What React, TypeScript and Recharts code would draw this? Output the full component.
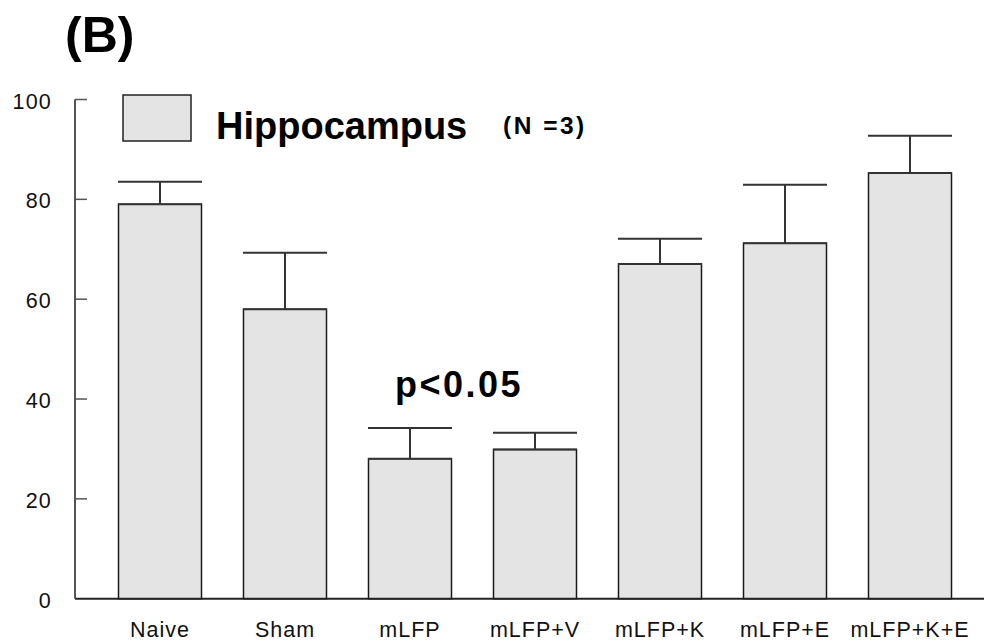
import React from 'react';
import { BarChart, Bar, XAxis, YAxis, ErrorBar, Customized } from 'recharts';

const categories = ['Naive', 'Sham', 'mLFP', 'mLFP+V', 'mLFP+K', 'mLFP+E', 'mLFP+K+E'];
const means = [79, 58, 28.05, 29.9, 67.05, 71.2, 85.3];
const sems = [4.5, 11.3, 6.15, 3.35, 5.05, 11.7, 7.45];
const yTicks = [0, 20, 40, 60, 80, 100];

const data = categories.map((name, i) => ({ name, value: means[i], err: [0, sems[i]] }));

const FONT = 'Liberation Sans, Arial, Helvetica, sans-serif';

const YTick = (props: any) => {
  const { x, y, payload } = props;
  const axisX = x + 8;
  return (
    <g>
      {payload.value !== 0 && (
        <line x1={axisX} x2={axisX + 12} y1={y} y2={y} stroke="#555" strokeWidth={1.5} />
      )}
      <text x={axisX - 23} y={y} dy={9} textAnchor="end" fontSize={21.5} letterSpacing={1.2} fill="#111" fontFamily={FONT}>
        {payload.value}
      </text>
    </g>
  );
};

const XTick = (props: any) => {
  const { x, y, payload } = props;
  return (
    <text x={x} y={y} dy={30} textAnchor="middle" fontSize={21.5} letterSpacing={1} fill="#111" fontFamily={FONT}>
      {payload.value}
    </text>
  );
};

const Annotations = () => (
  <g fontFamily={FONT} fontWeight="bold" fill="#000">
    <text x={65} y={52} fontSize={50}>(B)</text>
    <rect x={123} y={95} width={68} height={46} fill="#e4e4e4" stroke="#222" strokeWidth={1.5} />
    <text x={216} y={139} fontSize={38}>Hippocampus</text>
    <text x={503} y={134} fontSize={24.5} letterSpacing={2.5}>(N =3)</text>
    <text x={395} y={397} fontSize={36} letterSpacing={2.5}>p&lt;0.05</text>
  </g>
);

export default function App() {
  return (
    <div style={{ position: 'absolute', left: 0, top: 0, background: '#fff' }}>
      <BarChart
        width={984}
        height={643}
        data={data}
        margin={{ top: 99.5, right: 0, bottom: 0, left: 0 }}
        barSize={83}
      >
        <XAxis
          dataKey="name"
          padding={{ left: 22.5, right: 11.5 }}
          tickLine={false}
          axisLine={{ stroke: '#222', strokeWidth: 2 }}
          tick={<XTick />}
          interval={0}
          height={44.3}
        />
        <YAxis
          domain={[0, 100]}
          ticks={yTicks}
          width={75}
          tickLine={false}
          axisLine={{ stroke: '#555', strokeWidth: 2 }}
          tick={<YTick />}
          interval={0}
        />
        <Bar dataKey="value" fill="#e4e4e4" stroke="#1a1a1a" strokeWidth={1.5} isAnimationActive={false}>
          <ErrorBar dataKey="err" width={42} stroke="#333" strokeWidth={2} direction="y" />
        </Bar>
        <Customized component={Annotations} />
      </BarChart>
    </div>
  );
}
